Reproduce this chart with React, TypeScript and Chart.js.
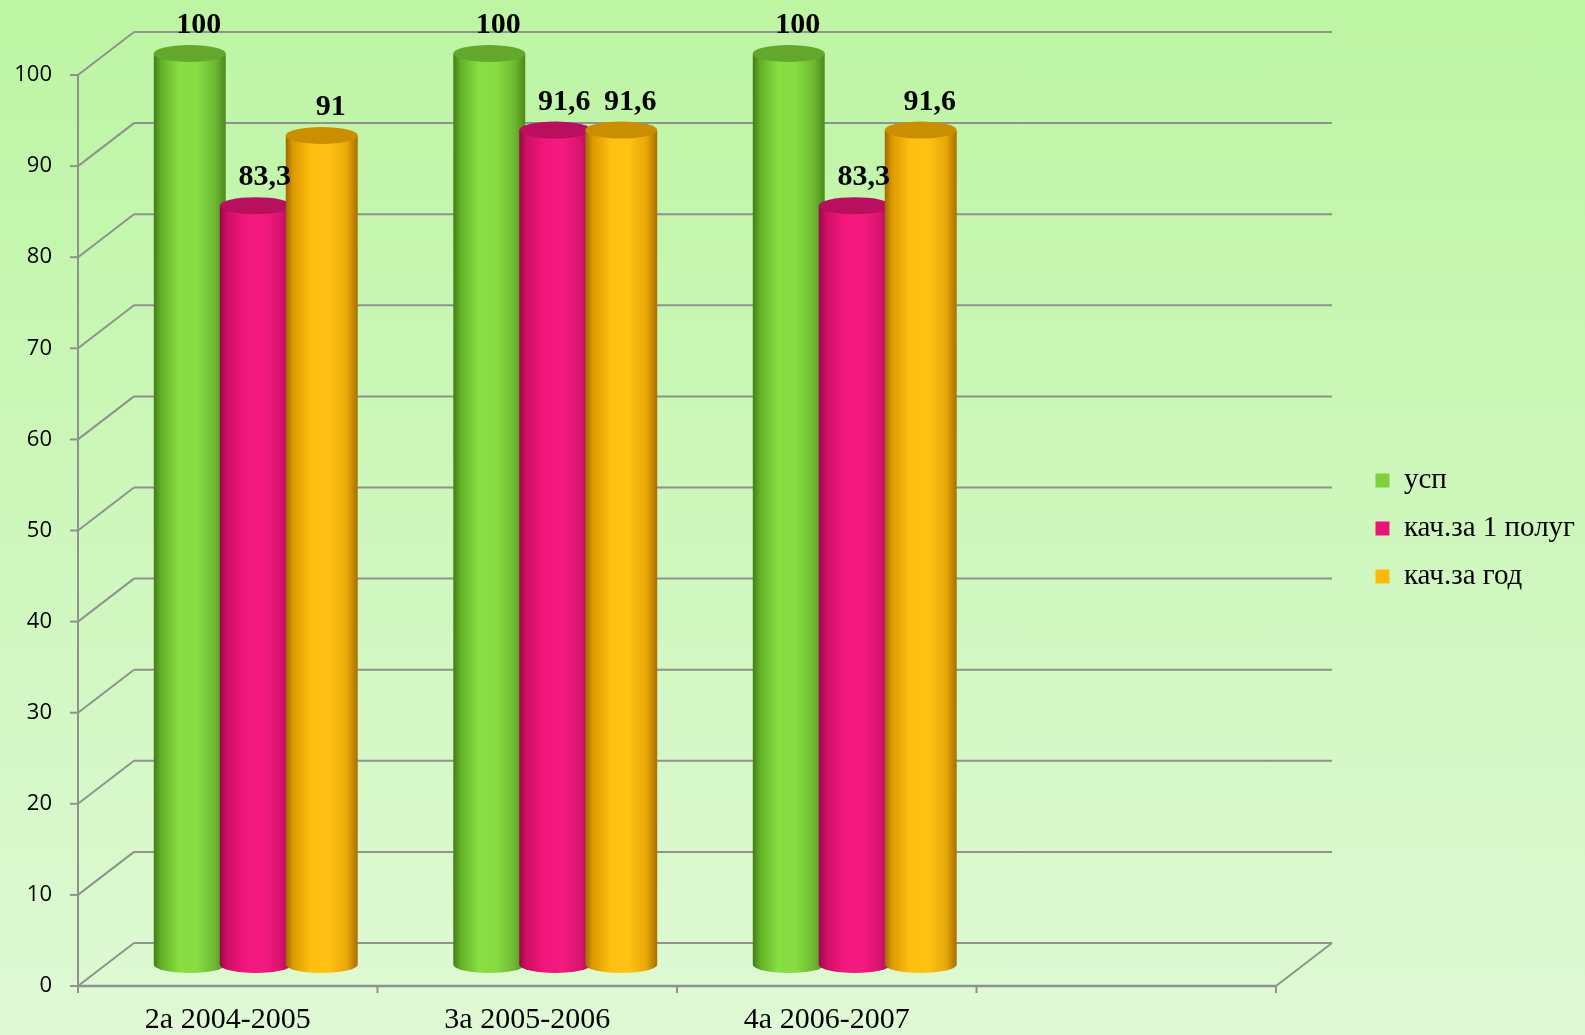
import React, { useEffect, useRef } from "react";
import { Chart, registerables } from "chart.js";

Chart.register(...registerables);

// ---- data ----
const categories = ["2а 2004-2005", "3а 2005-2006", "4а 2006-2007", ""];
const seriesNames = ["усп", "кач.за 1 полуг", "кач.за год"];
const uspValues = [100, 100, 100];
const kach1Values = [83.3, 91.6, 83.3];
const kachYearValues = [91, 91.6, 91.6];
const yMin = 0;
const yMax = 100;
const yStep = 10;

// ---- style ----
const W = 1585;
const H = 1035;
const DX = 28; // half depth offset (x)
const DY = 21.5; // half depth offset (y)
const MID_RIGHT = 1304;
const ELL_RY = 8.5;

const legendColors = ["#7fd13b", "#ea157a", "#feb80a"];
const topColors = ["#63a82c", "#b80f5e", "#c98f00"];
const bodyStops: [number, string][][] = [
  [
    [0, "#437d18"],
    [0.1, "#62b026"],
    [0.35, "#87de42"],
    [0.6, "#86dc42"],
    [0.85, "#6eb832"],
    [1, "#4c8a1c"],
  ],
  [
    [0, "#980848"],
    [0.1, "#cd0f65"],
    [0.35, "#f2177d"],
    [0.6, "#f51a80"],
    [0.85, "#d8136f"],
    [1, "#a80c56"],
  ],
  [
    [0, "#a06800"],
    [0.1, "#dc9a00"],
    [0.35, "#ffbe10"],
    [0.6, "#ffc214"],
    [0.85, "#e8a808"],
    [1, "#a87000"],
  ],
];

function fmt(v: number) {
  return String(v).replace(".", ",");
}

function line(ctx: CanvasRenderingContext2D, x1: number, y1: number, x2: number, y2: number) {
  ctx.beginPath();
  ctx.moveTo(x1, y1);
  ctx.lineTo(x2, y2);
  ctx.stroke();
}

function drawCylinder(
  ctx: CanvasRenderingContext2D,
  cx: number,
  yt: number,
  yb: number,
  r: number,
  ry: number,
  idx: number
) {
  const g = ctx.createLinearGradient(cx - r, 0, cx + r, 0);
  bodyStops[idx].forEach(([o, c]) => g.addColorStop(o, c));
  ctx.beginPath();
  ctx.moveTo(cx - r, yt);
  ctx.lineTo(cx - r, yb);
  ctx.ellipse(cx, yb, r, ry, 0, Math.PI, 0, true);
  ctx.lineTo(cx + r, yt);
  ctx.closePath();
  ctx.fillStyle = g;
  ctx.fill();
  ctx.beginPath();
  ctx.ellipse(cx, yt, r, ry, 0, 0, Math.PI * 2);
  ctx.fillStyle = topColors[idx];
  ctx.fill();
}

const threeDPlugin = {
  id: "threeD",
  beforeDatasetsDraw(chart: any) {
    const ctx: CanvasRenderingContext2D = chart.ctx;
    const ys = chart.scales.y;
    const xs = chart.scales.x;
    const area = chart.chartArea;
    const fl = area.left - DX;
    const bl = area.left + DX;
    const fr = area.right - DX;
    const br = area.right + DX;
    ctx.save();
    ctx.strokeStyle = "#8e938b";
    ctx.lineWidth = 2;
    ctx.lineCap = "butt";
    // walls / gridlines
    ys.ticks.forEach((t: any) => {
      const py = ys.getPixelForValue(t.value);
      const fy = py + DY;
      const by = py - DY;
      line(ctx, fl - 8, fy, fl, fy);
      line(ctx, fl, fy, bl, by);
      line(ctx, bl, by, br, by);
    });
    const fTop = ys.getPixelForValue(yMax) + DY;
    const f0 = ys.getPixelForValue(yMin) + DY;
    line(ctx, fl, fTop, fl, f0 + 7);
    ctx.lineWidth = 2.5;
    line(ctx, fl, f0, fr, f0);
    ctx.lineWidth = 2;
    line(ctx, fr, f0, br, f0 - 2 * DY);
    for (let k = 0; k <= categories.length; k++) {
      const px = xs.getPixelForValue(k - 0.5) - DX;
      line(ctx, px, f0, px, f0 + 7);
    }

    // cylinders
    const n = categories.length;
    const nd = chart.data.datasets.length;
    const items: any[] = [];
    for (let c = 0; c < n; c++) {
      for (let d = 0; d < nd; d++) {
        const meta = chart.getDatasetMeta(d);
        const el = meta.data[c];
        const v = chart.data.datasets[d].data[c];
        if (!el || v == null) continue;
        const p = el.getProps(["x", "y", "base", "width"], true);
        drawCylinder(ctx, p.x, p.y, p.base, p.width * 0.545, ELL_RY, d);
        items.push({ x: p.x, y: p.y, v });
      }
    }
    // data labels
    ctx.fillStyle = "#000";
    ctx.font = "bold 30px 'Liberation Serif'";
    ctx.textAlign = "center";
    ctx.textBaseline = "alphabetic";
    items.forEach((it) => {
      ctx.fillText(fmt(it.v), it.x + 9, it.y - ELL_RY - 12);
    });
    ctx.restore();
    return false;
  },
};

export default function App() {
  const ref = useRef<HTMLCanvasElement | null>(null);
  useEffect(() => {
    if (!ref.current) return;
    const series = [uspValues, kach1Values, kachYearValues];
    const chart = new Chart(ref.current, {
      type: "bar",
      data: {
        labels: categories,
        datasets: series.map((vals, i) => ({
          label: seriesNames[i],
          data: vals,
          backgroundColor: legendColors[i],
          borderWidth: 0,
          barPercentage: 1,
          categoryPercentage: 0.661,
          xAxisID: "x",
          yAxisID: "y",
        })),
      },
      options: {
        responsive: false,
        animation: false,
        devicePixelRatio: 1,
        layout: { padding: { top: 22, left: 0, right: 0, bottom: 0 } },
        plugins: {
          legend: {
            position: "right",
            labels: {
              font: { family: "'Liberation Serif'", size: 29 },
              color: "#000",
              boxWidth: 14,
              boxHeight: 14,
              padding: 19,
            },
          },
          tooltip: { enabled: false },
        },
        scales: {
          x: {
            type: "category",
            offset: true,
            grid: { display: false, drawTicks: false },
            border: { display: false },
            ticks: {
              font: { family: "'Liberation Serif'", size: 30 },
              color: "#000",
              labelOffset: -DX,
              padding: 38,
              maxRotation: 0,
              autoSkip: false,
            },
            afterFit: (s: any) => {
              s.height = 70.5;
              s.paddingLeft = 0;
              s.paddingRight = 0;
            },
          },
          xTop: {
            type: "linear",
            axis: "x",
            position: "top",
            grid: { display: false, drawTicks: false },
            border: { display: false },
            ticks: { display: false },
            afterFit: (s: any) => {
              s.height = 31.5;
              s.paddingLeft = 0;
              s.paddingRight = 0;
            },
          },
          y: {
            type: "linear",
            min: yMin,
            max: yMax,
            grid: { display: false, drawTicks: false },
            border: { display: false },
            ticks: {
              stepSize: yStep,
              font: { family: "'Open Sans'", size: 22 },
              color: "#000",
              labelOffset: DY,
              padding: 54,
            },
            afterFit: (s: any) => {
              s.width = 106;
              s.paddingTop = 0;
              s.paddingBottom = 0;
            },
          },
          yRight: {
            type: "linear",
            axis: "y",
            position: "right",
            grid: { display: false, drawTicks: false },
            border: { display: false },
            ticks: { display: false },
            afterFit: (s: any) => {
              const lw = s.chart.legend ? s.chart.legend.width : 0;
              s.width = Math.max(0, W - lw - MID_RIGHT);
              s.paddingTop = 0;
              s.paddingBottom = 0;
            },
          },
        },
      } as any,
      plugins: [threeDPlugin as any],
    });
    return () => chart.destroy();
  }, []);

  return (
    <div
      style={{
        position: "fixed",
        left: 0,
        top: 0,
        width: W,
        height: H,
        background: "linear-gradient(to bottom, #bdf5a3 0%, #dff9d5 100%)",
      }}
    >
      <canvas ref={ref} width={W} height={H} style={{ display: "block", width: W, height: H }} />
    </div>
  );
}
